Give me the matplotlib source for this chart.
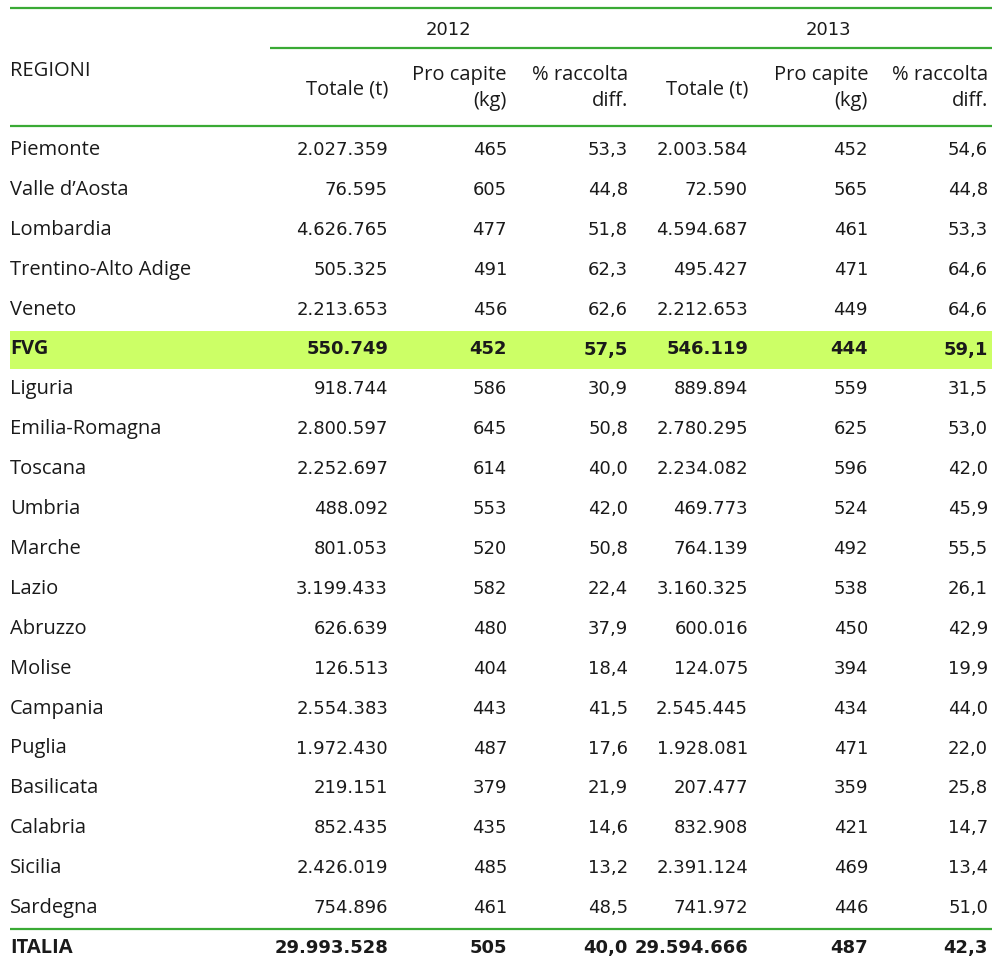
import matplotlib
matplotlib.use("Agg")
import matplotlib.pyplot as plt

regions = ["Piemonte", "Valle d’Aosta", "Lombardia", "Trentino-Alto Adige", "Veneto", "FVG",
           "Liguria", "Emilia-Romagna", "Toscana", "Umbria", "Marche", "Lazio", "Abruzzo",
           "Molise", "Campania", "Puglia", "Basilicata", "Calabria", "Sicilia", "Sardegna", "ITALIA"]
tot_2012 = ["2.027.359", "76.595", "4.626.765", "505.325", "2.213.653", "550.749", "918.744",
            "2.800.597", "2.252.697", "488.092", "801.053", "3.199.433", "626.639", "126.513",
            "2.554.383", "1.972.430", "219.151", "852.435", "2.426.019", "754.896", "29.993.528"]
pc_2012 = ["465", "605", "477", "491", "456", "452", "586", "645", "614", "553", "520", "582",
           "480", "404", "443", "487", "379", "435", "485", "461", "505"]
rd_2012 = ["53,3", "44,8", "51,8", "62,3", "62,6", "57,5", "30,9", "50,8", "40,0", "42,0", "50,8",
           "22,4", "37,9", "18,4", "41,5", "17,6", "21,9", "14,6", "13,2", "48,5", "40,0"]
tot_2013 = ["2.003.584", "72.590", "4.594.687", "495.427", "2.212.653", "546.119", "889.894",
            "2.780.295", "2.234.082", "469.773", "764.139", "3.160.325", "600.016", "124.075",
            "2.545.445", "1.928.081", "207.477", "832.908", "2.391.124", "741.972", "29.594.666"]
pc_2013 = ["452", "565", "461", "471", "449", "444", "559", "625", "596", "524", "492", "538",
           "450", "394", "434", "471", "359", "421", "469", "446", "487"]
rd_2013 = ["54,6", "44,8", "53,3", "64,6", "64,6", "59,1", "31,5", "53,0", "42,0", "45,9", "55,5",
           "26,1", "42,9", "19,9", "44,0", "22,0", "25,8", "14,7", "13,4", "51,0", "42,3"]
years = ["2012", "2013"]
col_headers = ["Totale (t)", "Pro capite\n(kg)", "% raccolta\ndiff."]
highlight = "FVG"
total_row = "ITALIA"

GREEN = "#3aaa35"
HL = "#ccff66"
TXT = "#1a1a1a"
LABEL_FONT = ["Open Sans", "DejaVu Sans"]
NUM_FONT = ["DejaVu Sans"]
LS = 14.5   # label font size
NS = 13     # number font size

fig = plt.figure(figsize=(9.92, 9.61), dpi=100)
ax = fig.add_axes([0, 0, 1, 1])
ax.set_xlim(0, 992)
ax.set_ylim(961, 0)
ax.axis("off")

left = 10
right = 992
col_right = [388, 507, 628, 748, 868, 988]
row_y0 = 150
row_step = 39.9

# rules
ax.plot([left, right], [8, 8], color=GREEN, lw=1.6, solid_capstyle="butt")
ax.plot([270, right], [48, 48], color=GREEN, lw=1.6, solid_capstyle="butt")
ax.plot([left, right], [126, 126], color=GREEN, lw=1.6, solid_capstyle="butt")

# header
ax.text(left, 71, "REGIONI", ha="left", va="center", fontsize=LS, family=LABEL_FONT, color=TXT)
for i, yr in enumerate(years):
    cx = 448 + i * 380
    ax.text(cx, 30, yr, ha="center", va="center", fontsize=13, family=NUM_FONT, color=TXT)
    for j, h in enumerate(col_headers):
        x = col_right[i * 3 + j]
        lines = h.split("\n")
        if len(lines) == 1:
            ax.text(x, 90, lines[0], ha="right", va="center", fontsize=LS, family=LABEL_FONT, color=TXT)
        else:
            ax.text(x, 75, lines[0], ha="right", va="center", fontsize=LS, family=LABEL_FONT, color=TXT)
            ax.text(x, 101, lines[1], ha="right", va="center", fontsize=LS, family=LABEL_FONT, color=TXT)

cols = [tot_2012, pc_2012, rd_2012, tot_2013, pc_2013, rd_2013]
for r, name in enumerate(regions):
    y = row_y0 + r * row_step
    bold = name in (highlight, total_row)
    if name == highlight:
        ax.add_patch(plt.Rectangle((left, y - 19), right - left, 38, color=HL, lw=0, zorder=0))
    if name == total_row:
        ax.plot([left, right], [y - 19, y - 19], color=GREEN, lw=1.6, solid_capstyle="butt")
    ax.text(left, y, name, ha="left", va="center", fontsize=LS, family=LABEL_FONT,
            color=TXT, fontweight="bold" if bold else "normal")
    for c, vals in enumerate(cols):
        ax.text(col_right[c], y, vals[r], ha="right", va="center", fontsize=NS,
                family=NUM_FONT, color=TXT, fontweight="bold" if bold else "normal")

fig.savefig("out.png", dpi=100, facecolor="white")
